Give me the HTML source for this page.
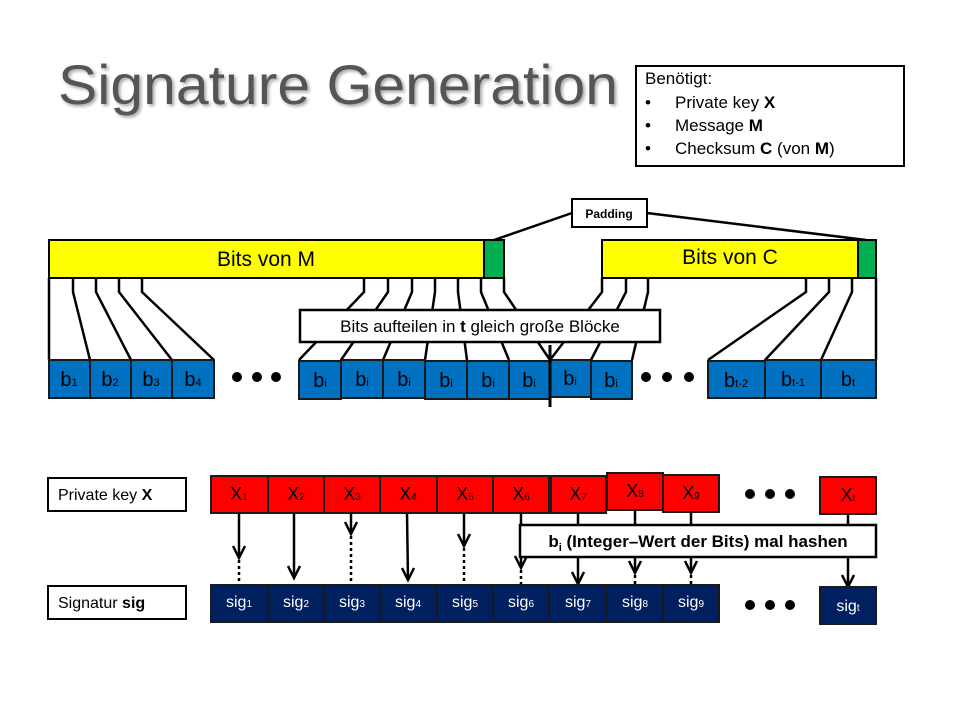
<!DOCTYPE html>
<html><head><meta charset="utf-8"><style>
body{margin:0;background:#fff}
svg text{font-family:"Liberation Sans",sans-serif}
</style></head><body>
<svg width="960" height="720" viewBox="0 0 960 720" xmlns="http://www.w3.org/2000/svg">
<defs>
<filter id="sh"><feDropShadow dx="2" dy="2" stdDeviation="1.5" flood-color="#000" flood-opacity="0.35"/></filter>
</defs>
<text x="58" y="104" font-size="56" fill="#555" filter="url(#sh)" textLength="560" lengthAdjust="spacingAndGlyphs">Signature Generation</text>
<rect x="636" y="66" width="268" height="100" fill="#fff" stroke="#000" stroke-width="2"/>
<g font-size="17" fill="#000">
<text x="645" y="84">Benötigt:</text>
<text x="645" y="108">•</text><text x="675" y="108">Private key <tspan font-weight="bold">X</tspan></text>
<text x="645" y="131">•</text><text x="675" y="131">Message <tspan font-weight="bold">M</tspan></text>
<text x="645" y="154">•</text><text x="675" y="154">Checksum <tspan font-weight="bold">C</tspan> (von <tspan font-weight="bold">M</tspan>)</text>
</g>
<line x1="572" y1="213" x2="494" y2="240" stroke="#000" stroke-width="2.5"/>
<line x1="647" y1="213" x2="866" y2="240" stroke="#000" stroke-width="2.5"/>
<rect x="572" y="199" width="75" height="28" fill="#fff" stroke="#000" stroke-width="2"/>
<text x="609" y="218" font-size="12" font-weight="bold" text-anchor="middle">Padding</text>
<g stroke="#000" stroke-width="2.5" fill="none">
<path d="M49,278V360"/>
<path d="M73,278V292L90,360"/><path d="M96,278V292L131,360"/><path d="M119,278V292L172,360"/><path d="M142,278V292L214,360"/>
<path d="M364,278V292L299,360"/><path d="M388,278V292L341,360"/><path d="M412,278V292L383,360"/><path d="M435,278V292L425,360"/><path d="M458,278V292L467,360"/><path d="M481,278V292L509,360"/><path d="M504,278V292L550,360"/>
<path d="M602,278V292L550,360"/><path d="M626,278V292L591,360"/><path d="M648,278V292L632,360"/>
<path d="M806,278V292L708,360"/><path d="M829,278V292L765,360"/><path d="M852,278V292L821,360"/><path d="M876,278V360"/>
</g>
<rect x="49" y="240" width="435" height="38" fill="#ffff00" stroke="#000" stroke-width="2"/>
<rect x="484" y="240" width="20" height="38" fill="#00b050" stroke="#000" stroke-width="2"/>
<rect x="602" y="240" width="256" height="38" fill="#ffff00" stroke="#000" stroke-width="2"/>
<rect x="858" y="240" width="18" height="38" fill="#00b050" stroke="#000" stroke-width="2"/>
<text x="266" y="266" font-size="21" text-anchor="middle">Bits von M</text>
<text x="730" y="264" font-size="21" text-anchor="middle">Bits von C</text>
<rect x="300" y="310" width="360" height="32" fill="#fff" stroke="#000" stroke-width="2.5"/>
<text x="480" y="332" font-size="17" text-anchor="middle">Bits aufteilen in <tspan font-weight="bold">t</tspan> gleich große Blöcke</text>
<g fill="#0070c0" stroke="#1a1a1a" stroke-width="2">
<rect x="49" y="360" width="41" height="38"/><rect x="90" y="360" width="41" height="38"/><rect x="131" y="360" width="41" height="38"/><rect x="172" y="360" width="42" height="38"/>
<rect x="299" y="361" width="42" height="38"/><rect x="341" y="360" width="42" height="38"/><rect x="383" y="360" width="42" height="38"/><rect x="425" y="361" width="42" height="38"/><rect x="467" y="361" width="42" height="38"/><rect x="509" y="361" width="41" height="38"/><rect x="550" y="360" width="41" height="37"/><rect x="591" y="361" width="41" height="38"/>
<rect x="708" y="361" width="57" height="37"/><rect x="765" y="360" width="56" height="38"/><rect x="821" y="360" width="55" height="38"/>
</g>
<line x1="550" y1="345" x2="550" y2="407" stroke="#000" stroke-width="3"/>
<g font-size="20" fill="#000" text-anchor="middle">
<text x="69" y="386">b<tspan font-size="11">1</tspan></text><text x="110" y="386">b<tspan font-size="11">2</tspan></text><text x="151" y="386">b<tspan font-size="11">3</tspan></text><text x="193" y="386">b<tspan font-size="11">4</tspan></text>
<text x="320" y="387">b<tspan font-size="11">i</tspan></text><text x="362" y="386">b<tspan font-size="11">i</tspan></text><text x="404" y="386">b<tspan font-size="11">i</tspan></text><text x="446" y="387">b<tspan font-size="11">i</tspan></text><text x="488" y="387">b<tspan font-size="11">i</tspan></text><text x="529" y="387">b<tspan font-size="11">i</tspan></text><text x="570" y="385">b<tspan font-size="11">i</tspan></text><text x="611" y="387">b<tspan font-size="11">i</tspan></text>
<text x="736" y="387">b<tspan font-size="11">t-2</tspan></text><text x="793" y="386">b<tspan font-size="11">t-1</tspan></text><text x="848" y="386">b<tspan font-size="11">t</tspan></text>
</g>
<g fill="#000">
<circle cx="237" cy="377" r="5"/><circle cx="257" cy="377" r="5"/><circle cx="276" cy="377" r="5"/>
<circle cx="646" cy="377" r="5"/><circle cx="667" cy="377" r="5"/><circle cx="689" cy="377" r="5"/>
<circle cx="750" cy="494" r="5"/><circle cx="770" cy="494" r="5"/><circle cx="790" cy="494" r="5"/>
<circle cx="750" cy="605" r="5"/><circle cx="770" cy="605" r="5"/><circle cx="790" cy="605" r="5"/>
</g>
<rect x="48" y="478" width="138" height="33" fill="#fff" stroke="#000" stroke-width="2"/>
<text x="58" y="500" font-size="16">Private key <tspan font-weight="bold">X</tspan></text>
<rect x="48" y="586" width="138" height="33" fill="#fff" stroke="#000" stroke-width="2"/>
<text x="58" y="608" font-size="16">Signatur <tspan font-weight="bold">sig</tspan></text>
<g stroke="#000" stroke-width="2.5" fill="none">
<line x1="239" y1="513" x2="239" y2="558"/><path d="M233,546L239,558L245,546"/><line x1="239" y1="560" x2="239" y2="585" stroke-dasharray="3,3"/>
<line x1="294" y1="513" x2="294" y2="578"/><path d="M288,566L294,578L300,566"/>
<line x1="351" y1="513" x2="351" y2="534"/><path d="M345,522L351,534L357,522"/><line x1="351" y1="536" x2="351" y2="585" stroke-dasharray="3,3"/>
<line x1="407" y1="513" x2="408" y2="580"/><path d="M402,568L408,580L414,568"/>
<line x1="464" y1="513" x2="464" y2="546"/><path d="M458,534L464,546L470,534"/><line x1="464" y1="548" x2="464" y2="585" stroke-dasharray="3,3"/>
<line x1="521" y1="513" x2="521" y2="568"/><path d="M515,556L521,568L527,556"/><line x1="521" y1="570" x2="521" y2="585" stroke-dasharray="3,3"/>
<line x1="578" y1="513" x2="578" y2="584"/><path d="M572,572L578,584L584,572"/>
<line x1="635" y1="510" x2="635" y2="573"/><path d="M629,561L635,573L641,561"/><line x1="635" y1="575" x2="635" y2="585" stroke-dasharray="3,3"/>
<line x1="691" y1="513" x2="691" y2="573"/><path d="M685,561L691,573L697,561"/><line x1="691" y1="575" x2="691" y2="585" stroke-dasharray="3,3"/>
<line x1="848" y1="514" x2="848" y2="587"/><path d="M842,575L848,587L854,575"/>
</g>
<g fill="#ff0000" stroke="#1a1a1a" stroke-width="2">
<rect x="211" y="476" width="57" height="37"/><rect x="268" y="476" width="56" height="37"/><rect x="324" y="476" width="56" height="37"/><rect x="380" y="476" width="57" height="37"/><rect x="437" y="476" width="56" height="37"/><rect x="493" y="476" width="56" height="37"/><rect x="551" y="476" width="55" height="37"/><rect x="607" y="473" width="56" height="37"/><rect x="663" y="475" width="56" height="37"/><rect x="820" y="477" width="56" height="37"/>
</g>
<g font-size="18" fill="#000" text-anchor="middle">
<text x="239" y="500">X<tspan font-size="10">1</tspan></text><text x="296" y="500">X<tspan font-size="10">2</tspan></text><text x="352" y="500">X<tspan font-size="10">3</tspan></text><text x="408" y="500">X<tspan font-size="10">4</tspan></text><text x="465" y="500">X<tspan font-size="10">5</tspan></text><text x="521" y="500">X<tspan font-size="10">6</tspan></text><text x="578" y="500">X<tspan font-size="10">7</tspan></text><text x="635" y="497">X<tspan font-size="10">8</tspan></text><text x="691" y="499">X<tspan font-size="10">9</tspan></text><text x="848" y="501">X<tspan font-size="10">t</tspan></text>
</g>
<rect x="520" y="525" width="356" height="32" fill="#fff" stroke="#000" stroke-width="2.5"/>
<text x="698" y="547" font-size="17" font-weight="bold" text-anchor="middle">b<tspan font-size="11" dy="4">i</tspan><tspan dy="-4"> (Integer–Wert der Bits) mal hashen</tspan></text>
<g fill="#002060" stroke="#1a1a1a" stroke-width="2">
<rect x="211" y="585" width="57" height="37"/><rect x="268" y="585" width="56" height="37"/><rect x="324" y="585" width="56" height="37"/><rect x="380" y="585" width="57" height="37"/><rect x="437" y="585" width="56" height="37"/><rect x="493" y="585" width="56" height="37"/><rect x="549" y="585" width="57" height="37"/><rect x="606" y="585" width="57" height="37"/><rect x="663" y="585" width="56" height="37"/><rect x="820" y="587" width="56" height="37"/>
</g>
<g font-size="16" fill="#fff" text-anchor="middle">
<text x="239" y="607">sig<tspan font-size="10">1</tspan></text><text x="296" y="607">sig<tspan font-size="10">2</tspan></text><text x="352" y="607">sig<tspan font-size="10">3</tspan></text><text x="408" y="607">sig<tspan font-size="10">4</tspan></text><text x="465" y="607">sig<tspan font-size="10">5</tspan></text><text x="521" y="607">sig<tspan font-size="10">6</tspan></text><text x="578" y="607">sig<tspan font-size="10">7</tspan></text><text x="635" y="607">sig<tspan font-size="10">8</tspan></text><text x="691" y="607">sig<tspan font-size="10">9</tspan></text><text x="848" y="611">sig<tspan font-size="10">t</tspan></text>
</g>
</svg>
</body></html>
